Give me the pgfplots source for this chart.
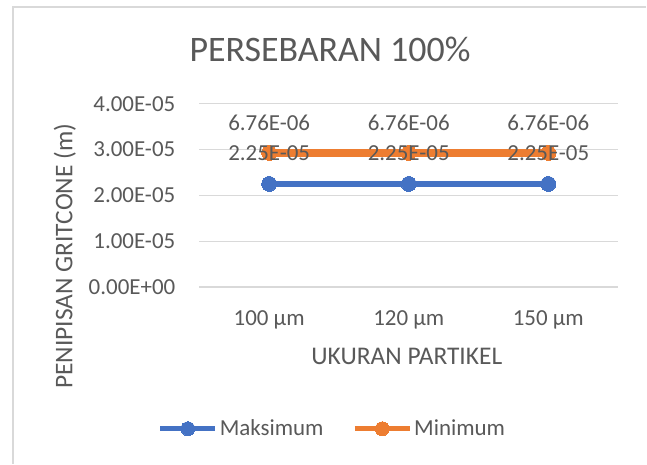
\documentclass[border=0pt]{standalone}
\usepackage{pgfplots}
\pgfplotsset{compat=1.18}
\usepackage{fontspec}
\setmainfont{Carlito}
\definecolor{txt}{HTML}{595959}
\definecolor{gridc}{HTML}{D9D9D9}
\definecolor{blu}{HTML}{4472C4}
\definecolor{org}{HTML}{ED7D31}
\begin{document}
\begin{tikzpicture}[x=1pt,y=-1pt]
\fill[white] (0,0) rectangle (647,464);
\draw[gridc, line width=2pt] (648,7) -- (13,7) -- (13,465);
\node[txt, font=\fontsize{36}{40}\selectfont] at (331,50) {PERSEBARAN 100\%};
\node[txt, font=\fontsize{25.5}{30}\selectfont] at (408,358) {UKURAN PARTIKEL};
\node[txt, font=\fontsize{25.5}{30}\selectfont, rotate=90] at (65,257) {PENIPISAN GRITCONE (m)};
\begin{axis}[
  at={(200pt,-288pt)}, anchor=south west,
  scale only axis, width=420pt, height=184pt,
  xmin=0.5, xmax=3.5, ymin=0, ymax=4e-5,
  xtick={1,2,3}, xticklabels={100 µm,120 µm,150 µm},
  ytick={0,1e-5,2e-5,3e-5,4e-5},
  yticklabels={0.00E+00,1.00E-05,2.00E-05,3.00E-05,4.00E-05},
  scaled y ticks=false,
  major tick length=0pt,
  axis line style={draw=none},
  ymajorgrids, grid style={gridc, line width=1.5pt},
  ticklabel style={font=\fontsize{23}{27}\selectfont, text=txt, inner sep=0pt},
  yticklabel style={anchor=east, xshift=-24pt},
  xticklabel style={anchor=base, yshift=-39pt},
  clip=false,
  legend style={at={(0.318,-0.772)}, anchor=center, draw=none, fill=none,
    legend columns=2, font=\fontsize{23}{27}\selectfont, text=txt,
    /tikz/every even column/.append style={column sep=27pt},
    nodes={inner sep=2pt}},
  legend cell align=left,
  legend image code/.code={
    \draw[#1, mark=none, line width=5pt] (0pt,0pt) -- (55pt,0pt);
    \fill[#1, mark=none, line width=0pt] (27.5pt,0pt) circle (7pt);
  },
]
\addplot[blu, line width=5.5pt, mark=*, mark size=7.5pt, mark options={line width=0pt}] coordinates {(1,2.25e-5) (2,2.25e-5) (3,2.25e-5)};
\addlegendentry{Maksimum}
\addplot[org, line width=8pt, mark=*, mark size=7.5pt, mark options={line width=0pt}] coordinates {(1,2.926e-5) (2,2.926e-5) (3,2.926e-5)};
\addlegendentry{Minimum}
\addplot[draw=none, mark=none, forget plot,
  nodes near coords={2.25E-05},
  every node near coord/.append style={anchor=center, text=txt, font=\fontsize{23}{27}\selectfont, inner sep=0pt}]
  coordinates {(1,2.926e-5) (2,2.926e-5) (3,2.926e-5)};
\addplot[draw=none, mark=none, forget plot,
  nodes near coords={6.76E-06},
  every node near coord/.append style={anchor=center, yshift=30pt, text=txt, font=\fontsize{23}{27}\selectfont, inner sep=0pt}]
  coordinates {(1,2.926e-5) (2,2.926e-5) (3,2.926e-5)};
\end{axis}
\end{tikzpicture}
\end{document}
